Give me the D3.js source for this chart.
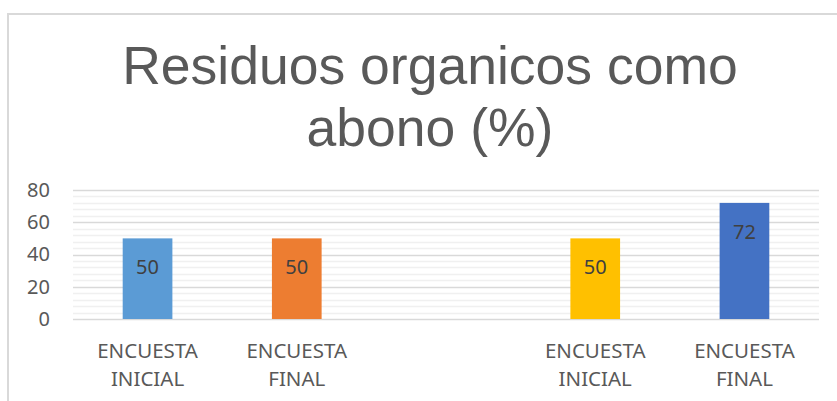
<!DOCTYPE html>
<html>
<head>
<meta charset="utf-8">
<script src="https://cdn.jsdelivr.net/npm/d3@7"></script>
<style>
  body { margin: 0; background: #fff; }
  svg { display: block; }
</style>
</head>
<body>
<div id="chart"></div>
<script>
// data
const categories = ["c1", "c2", "gap", "c3", "c4"]
const catLines = [["ENCUESTA", "INICIAL"], ["ENCUESTA", "FINAL"], [], ["ENCUESTA", "INICIAL"], ["ENCUESTA", "FINAL"]]
const values = [50, 50, null, 50, 72]
const barColors = ["#5b9bd5", "#ed7d31", "none", "#ffc000", "#4472c4"]
const yTicks = [0, 20, 40, 60, 80]
const titleLines = ["Residuos organicos como", "abono (%)"]

const width = 837, height = 401
const margin = {top: 190, right: 18, bottom: 82, left: 73}
const labelFont = "'Noto Sans', 'Open Sans', sans-serif"

let svg = d3.select("#chart").append("svg")
  .attr("width", width)
  .attr("height", height)

// chart frame (only top and left edge visible)
svg.append("path")
  .attr("d", "M8," + (height + 5) + "V14H" + (width + 5))
  .attr("fill", "none")
  .attr("stroke", "#d9d9d9")
  .attr("stroke-width", 2)

let x = d3.scaleBand().domain(categories)
  .range([margin.left, width - margin.right])
  .paddingInner(0.667).paddingOuter(0.333)

let y = d3.scaleLinear().domain([0, 80])
  .range([height - margin.bottom, margin.top])

// minor gridlines every 4
svg.append("g").selectAll("line")
  .data(d3.range(0, 81, 4).filter(d => d % 20 != 0))
  .enter().append("line")
  .attr("x1", margin.left).attr("x2", width - margin.right)
  .attr("y1", d => Math.round(y(d)) + 0.5).attr("y2", d => Math.round(y(d)) + 0.5)
  .attr("stroke", "#f0f0f0").attr("stroke-width", 1.5)

// major gridlines
svg.append("g").selectAll("line")
  .data(yTicks)
  .enter().append("line")
  .attr("x1", margin.left).attr("x2", width - margin.right)
  .attr("y1", d => Math.round(y(d)) + 0.5).attr("y2", d => Math.round(y(d)) + 0.5)
  .attr("stroke", "#d9d9d9").attr("stroke-width", 1.5)

// y axis labels
let yAxis = d3.axisLeft(y).tickValues(yTicks).tickSize(0).tickPadding(23)
let gy = svg.append("g")
  .attr("transform", "translate(" + margin.left + ",0)")
  .call(yAxis)
gy.select(".domain").remove()
gy.selectAll("text")
  .attr("fill", "#595959")
  .style("font-family", labelFont)
  .style("font-size", "20px")

// bars
let data = categories.map((c, i) => ({cat: c, value: values[i], color: barColors[i], lines: catLines[i]}))

svg.append("g").selectAll("rect")
  .data(data.filter(d => d.value != null))
  .enter().append("rect")
  .attr("x", d => x(d.cat))
  .attr("width", x.bandwidth())
  .attr("y", d => y(d.value))
  .attr("height", d => y(0) - y(d.value))
  .attr("fill", d => d.color)

// data labels
svg.append("g").selectAll("text")
  .data(data.filter(d => d.value != null))
  .enter().append("text")
  .attr("x", d => x(d.cat) + x.bandwidth() / 2)
  .attr("y", d => y(d.value) + 36)
  .attr("text-anchor", "middle")
  .attr("fill", "#404040")
  .style("font-family", labelFont)
  .style("font-size", "20px")
  .text(d => d.value)

// category labels
let cats = svg.append("g").selectAll("text")
  .data(data)
  .enter().append("text")
  .attr("text-anchor", "middle")
  .attr("fill", "#595959")
  .style("font-family", labelFont)
  .style("font-size", "20.5px")

cats.selectAll("tspan")
  .data(d => d.lines.map(l => ({l: l, cx: x(d.cat) + x.bandwidth() / 2})))
  .enter().append("tspan")
  .attr("x", d => d.cx)
  .attr("y", (d, i) => 358 + i * 28)
  .text(d => d.l)

// title
svg.append("g").selectAll("text")
  .data(titleLines)
  .enter().append("text")
  .attr("x", 430)
  .attr("y", (d, i) => 84 + i * 62)
  .attr("text-anchor", "middle")
  .attr("fill", "#595959")
  .style("font-family", "'Liberation Sans', Arial, sans-serif")
  .style("font-size", "53.5px")
  .text(d => d)
</script>
</body>
</html>
